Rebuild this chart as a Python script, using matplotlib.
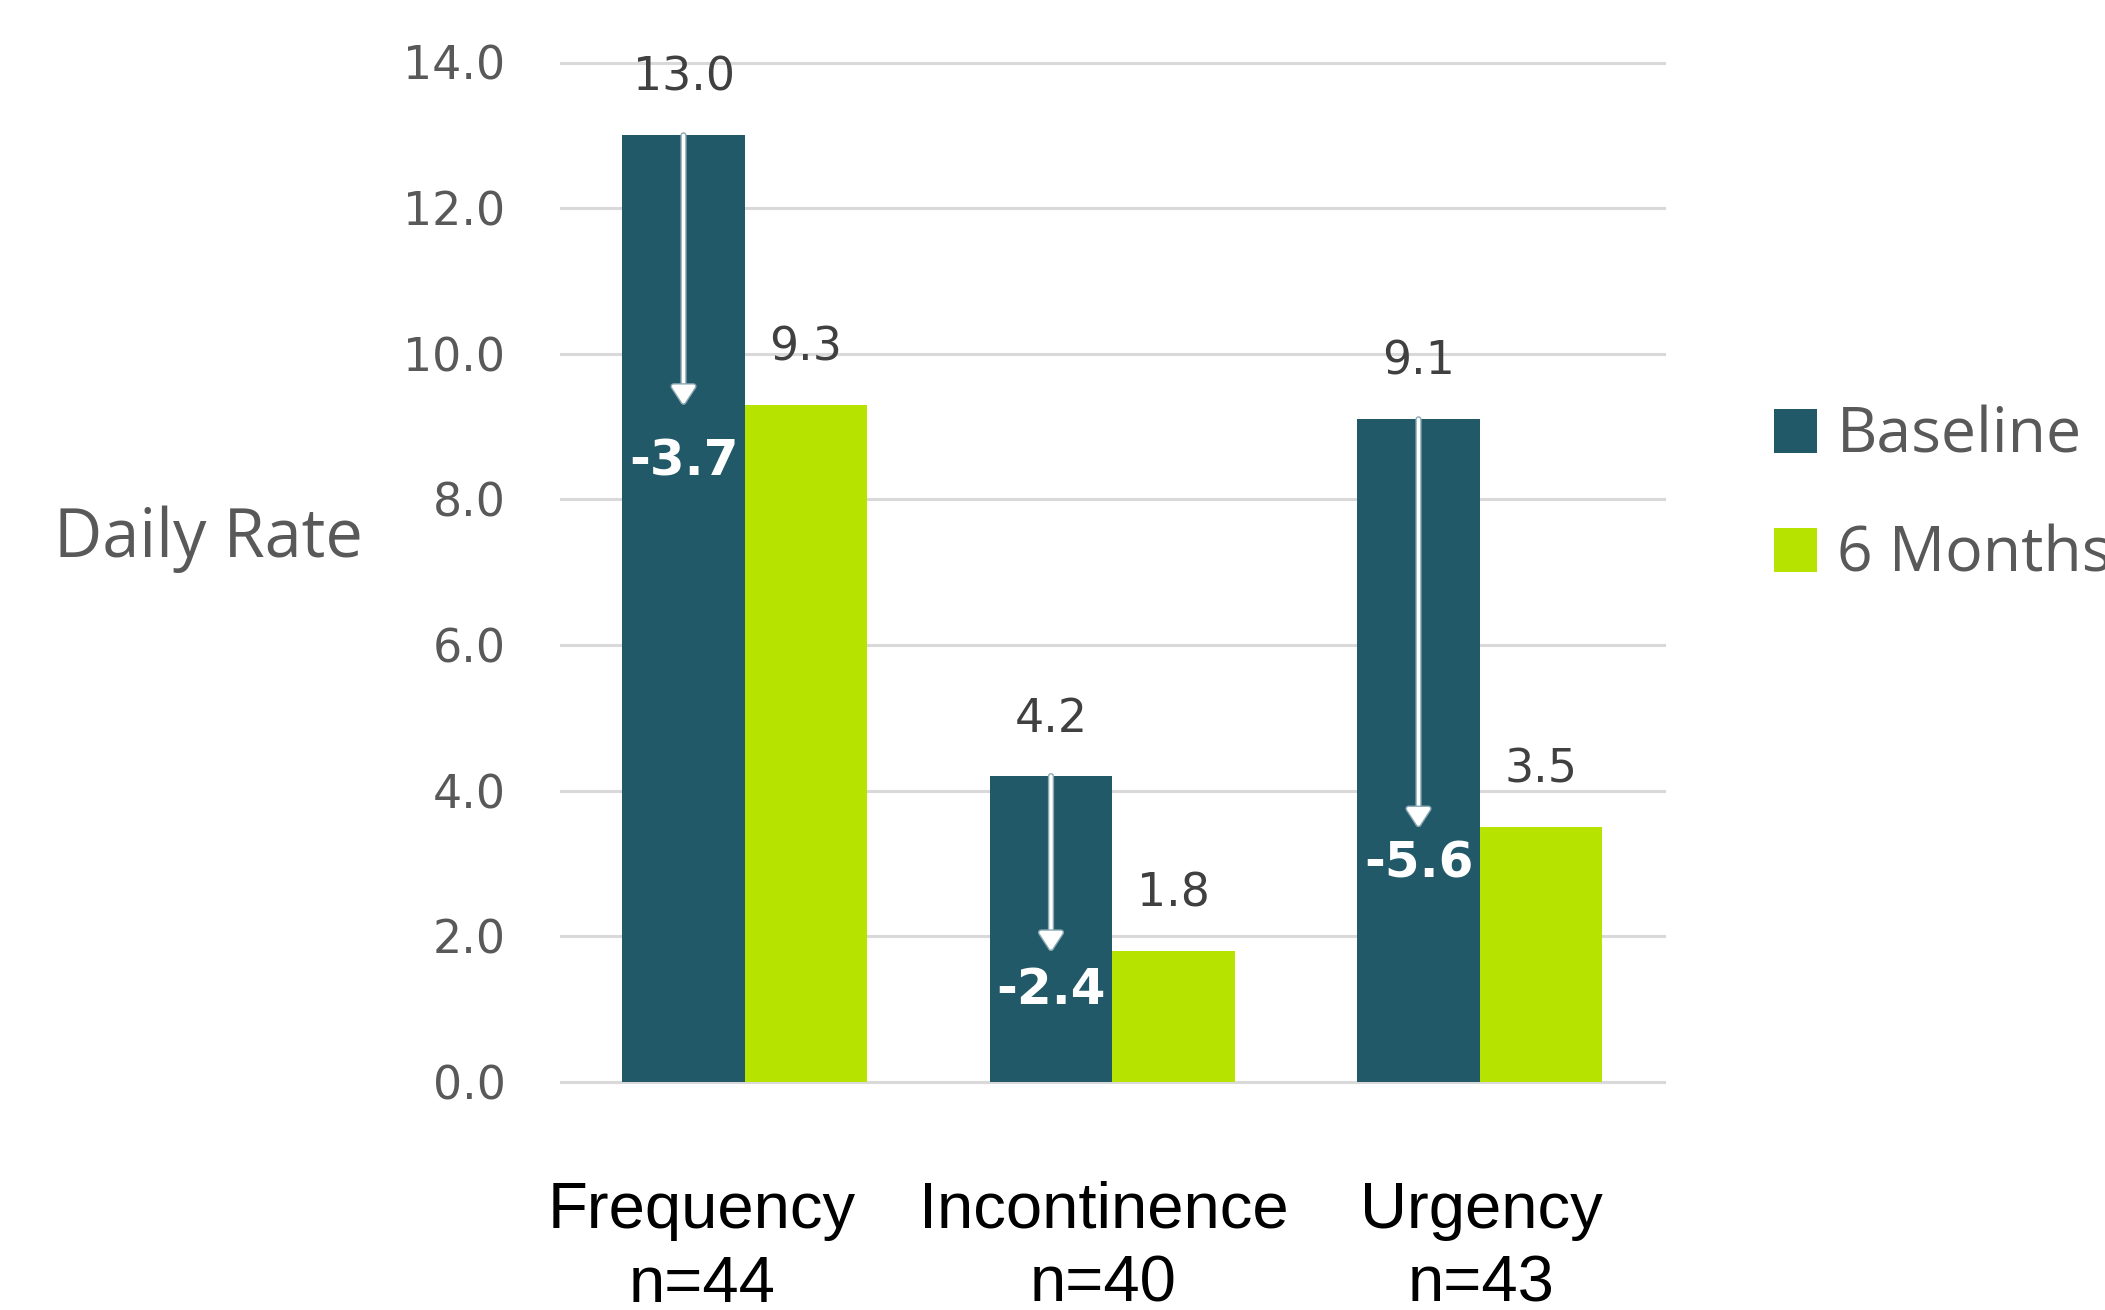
import matplotlib
matplotlib.use("Agg")
import matplotlib.pyplot as plt
import numpy as np
from matplotlib import patheffects as pe

# ---- data ----
categories = ["Frequency", "Incontinence", "Urgency"]
sample_sizes = ["n=44", "n=40", "n=43"]
series_names = ["Baseline", "6 Months"]
baseline = [13.0, 4.2, 9.1]
six_months = [9.3, 1.8, 3.5]
y_ticks = [0.0, 2.0, 4.0, 6.0, 8.0, 10.0, 12.0, 14.0]
y_label = "Daily Rate"

# ---- style ----
BASE_COLOR = "#215968"
SIX_COLOR = "#b6e300"
GRID_COLOR = "#d9d9d9"
TICK_COLOR = "#595959"
VALUE_COLOR = "#404040"

W, H, DPI = 2105, 1310, 100
fig = plt.figure(figsize=(W / DPI, H / DPI), dpi=DPI)

# axes box in pixels: left, bottom(from top), width, height
ax_left, ax_bottom_px, ax_w, ax_h = 561, 1082, 1102.5, 1019.5
ax = fig.add_axes([ax_left / W, 1 - ax_bottom_px / H, ax_w / W, ax_h / H])

x = np.arange(len(categories))
width = 1 / 3
base_x = x - width / 2
six_x = x + width / 2

ax.bar(base_x, baseline, width, color=BASE_COLOR, label=series_names[0], zorder=3)
ax.bar(six_x, six_months, width, color=SIX_COLOR, label=series_names[1], zorder=3)

ax.set_xlim(-0.5, 2.5)
ax.set_ylim(0, 14)
ax.set_yticks(y_ticks)
ax.set_yticklabels([f"{v:.1f}" for v in y_ticks])
ax.set_xticks([])
ax.yaxis.grid(True, color=GRID_COLOR, linewidth=2.2)
ax.set_axisbelow(True)
for gl in ax.get_ygridlines():
    gl.set_clip_on(False)
for s in ax.spines.values():
    s.set_visible(False)
ax.tick_params(axis="y", length=0, pad=40, labelsize=33, labelcolor=TICK_COLOR)
for lbl in ax.get_yticklabels():
    lbl.set_family("DejaVu Sans")

# value labels above each bar
for xs, vals in ((base_x, baseline), (six_x, six_months)):
    for xi, v in zip(xs, vals):
        ax.annotate(f"{v:.1f}", (xi, v), xytext=(0, 41), textcoords="offset points",
                    ha="center", va="center", fontsize=33, color=VALUE_COLOR,
                    family="DejaVu Sans", annotation_clip=False)

# change arrows inside the baseline bars
change_offsets_pt = [41, 28, 26]
for xi, b, s, off in zip(base_x, baseline, six_months, change_offsets_pt):
    arr = ax.annotate("", xy=(xi, s), xytext=(xi, b),
                      arrowprops=dict(arrowstyle="-|>,head_length=0.55,head_width=0.36",
                                      color="white", lw=2.5, shrinkA=0, shrinkB=0,
                                      mutation_scale=20), zorder=5)
    arr.arrow_patch.set_path_effects([pe.withStroke(linewidth=4.5, foreground="#8aa8b3")])
    ax.annotate(f"{s - b:.1f}", (xi, s), xytext=(0, -off), textcoords="offset points",
                ha="center", va="center", fontsize=36, fontweight="bold", color="white",
                family="DejaVu Sans", zorder=6)

# category labels under the groups
cat_dx = [-0.117, -0.024, 0.005]
for xi, dx, cat, n in zip(x, cat_dx, categories, sample_sizes):
    ax.text(xi + dx, -(1228 - ax_bottom_px) / ax_h, cat, transform=ax.get_xaxis_transform(),
            ha="center", va="baseline", fontsize=47, family="Liberation Sans", color="black")
    ax.text(xi + dx, -(1302 - ax_bottom_px) / ax_h, n, transform=ax.get_xaxis_transform(),
            ha="center", va="baseline", fontsize=47, family="Liberation Sans", color="black")

# y axis title
fig.text(208 / W, 1 - 539 / H, y_label, ha="center", va="center", fontsize=48,
         family="Open Sans", color=TICK_COLOR)

# legend
ax.legend(loc="center left", bbox_to_anchor=(1774 / W, 1 - 496 / H),
          bbox_transform=fig.transFigure, frameon=False,
          prop={"family": "Open Sans", "size": 45}, labelcolor=TICK_COLOR,
          handlelength=0.69, handleheight=0.72, handletextpad=0.32,
          borderpad=0, borderaxespad=0, labelspacing=0.9)

fig.savefig("out.png", dpi=DPI, facecolor="white")
